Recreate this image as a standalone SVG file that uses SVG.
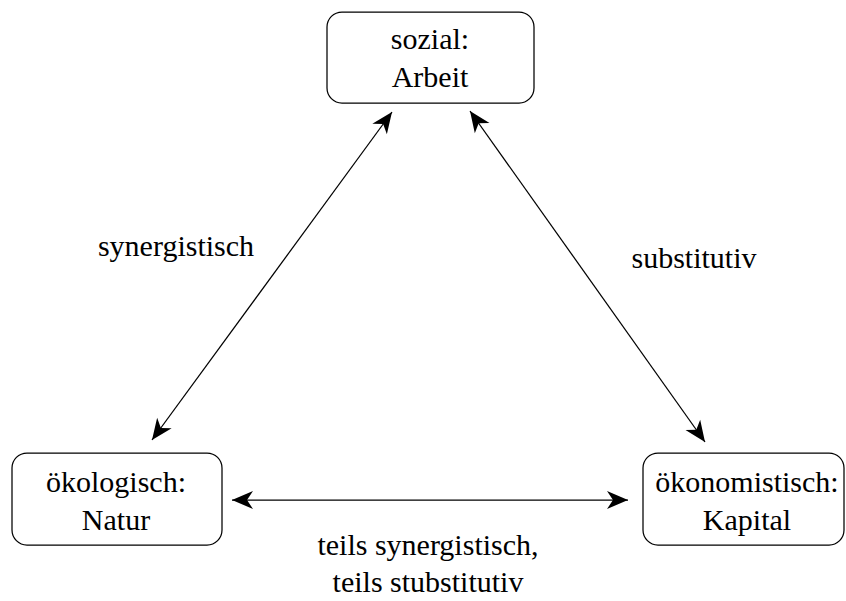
<svg xmlns="http://www.w3.org/2000/svg" width="846" height="601" viewBox="0 0 846 601">
<style>
.box{fill:#fff;stroke:#000;stroke-width:1.25}
text{font-family:'Liberation Serif',serif;font-size:30px;fill:#000;text-anchor:middle}
.c{stroke:#000;stroke-width:1.25;fill:none;marker-start:url(#ah);marker-end:url(#ah)}
</style>
<defs>
<marker id="ah" markerUnits="userSpaceOnUse" markerWidth="24" markerHeight="22" viewBox="-22 -11 23 22" refX="0" refY="0" orient="auto-start-reverse">
<path d="M0,0 L-21,-9 L-15,0 L-21,9 Z" fill="#000"/>
</marker>
</defs>
<rect width="846" height="601" fill="#fff"/>
<g id="connectors">
<line class="c" x1="152" y1="440" x2="392" y2="112"/>
<line class="c" x1="470" y1="111" x2="705" y2="442"/>
<line class="c" x1="232" y1="500" x2="628" y2="500"/>
<text x="176" y="256">synergistisch</text>
<text x="694" y="268">substitutiv</text>
<text x="428" y="555">teils synergistisch,</text>
<text x="428" y="592">teils stubstitutiv</text>
</g>
<g id="sozial">
<rect class="box" x="327" y="12" width="207" height="91" rx="15"/>
<text x="430" y="49">sozial:</text>
<text x="430" y="87">Arbeit</text>
</g>
<g id="oekologisch">
<rect class="box" x="12" y="453" width="210" height="92" rx="15"/>
<text x="116" y="492">ökologisch:</text>
<text x="116" y="530">Natur</text>
</g>
<g id="oekonomistisch">
<rect class="box" x="643" y="453" width="201" height="92" rx="15"/>
<text x="747" y="492">ökonomistisch:</text>
<text x="747" y="530">Kapital</text>
</g>
</svg>
